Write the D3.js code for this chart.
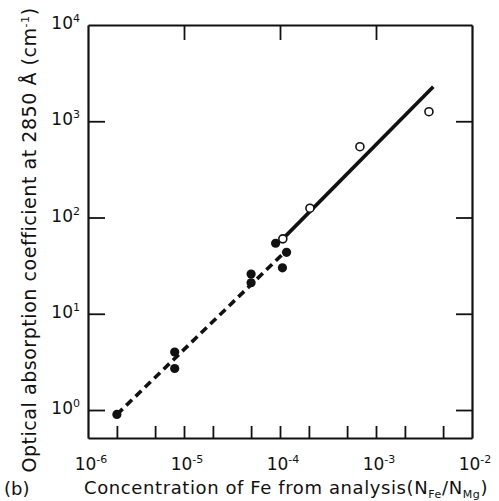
<!DOCTYPE html>
<html>
<head>
<meta charset="utf-8">
<script src="https://cdn.jsdelivr.net/npm/d3@7"></script>
<style>
  body { margin: 0; background: #fff; }
  text { font-family: "DejaVu Sans", sans-serif; fill: #111; }
</style>
</head>
<body>
<svg></svg>
<script>
// data
var filledX = [2e-6, 8e-6, 8e-6, 5e-5, 5e-5, 9e-5, 1.06e-4, 1.17e-4];
var filledY = [0.9, 4.0, 2.7, 25.9, 21.0, 54, 30, 43.5];
var openX = [1.07e-4, 2.05e-4, 6.8e-4, 3.56e-3];
var openY = [60, 125, 544, 1257];
var dashedX = [2e-6, 1.18e-4], dashedY = [0.9, 46];
var solidX = [1.07e-4, 3.95e-3], solidY = [60, 2286];

var xDecades = [1e-6, 1e-5, 1e-4, 1e-3, 1e-2];
var xExponents = ["-6", "-5", "-4", "-3", "-2"];
var xMinorTicks = [2e-6, 5e-6, 1e-5, 2e-5, 5e-5, 1e-4, 2e-4, 5e-4, 1e-3, 2e-3, 5e-3];
var xTopTicks = [1e-5, 1e-4, 1e-3];
var yDecades = [1, 10, 100, 1000, 10000];
var yExponents = ["0", "1", "2", "3", "4"];
var yTicks = [1, 10, 100, 1000];
var yBottom = 0.512;

var svgWidth = 499, svgHeight = 501;
var plotLeft = 88, plotRight = 472, plotTop = 25, plotBottom = 438;

var svg = d3.select("svg")
    .attr("width", svgWidth)
    .attr("height", svgHeight);

// scales
var xScale = d3.scaleLog().domain([1e-6, 1e-2]).range([plotLeft, plotRight]);
var yScale = d3.scaleLog().domain([yBottom, 1e4]).range([plotBottom, plotTop]);

// axes (frame + inward ticks)
function styleAxis(g) {
    g.selectAll("path").attr("stroke", "#111").attr("stroke-width", 2.2);
    g.selectAll("line").attr("stroke", "#111").attr("stroke-width", 1.8);
}
svg.append("g")
    .attr("transform", "translate(0," + plotBottom + ")")
    .call(d3.axisBottom(xScale).tickValues(xMinorTicks).tickSizeInner(-12).tickSizeOuter(0).tickFormat(""))
    .call(styleAxis);
svg.append("g")
    .attr("transform", "translate(0," + plotTop + ")")
    .call(d3.axisTop(xScale).tickValues(xTopTicks).tickSizeInner(-15).tickSizeOuter(0).tickFormat(""))
    .call(styleAxis);
svg.append("g")
    .attr("transform", "translate(" + plotLeft + ",0)")
    .call(d3.axisLeft(yScale).tickValues(yTicks).tickSizeInner(-17).tickSizeOuter(0).tickFormat(""))
    .call(styleAxis);
svg.append("g")
    .attr("transform", "translate(" + plotRight + ",0)")
    .call(d3.axisRight(yScale).tickValues(yTicks).tickSizeInner(-16).tickSizeOuter(0).tickFormat(""))
    .call(styleAxis);

// tick labels 10^n
var xLab = svg.selectAll("text.xlab")
    .data(xDecades)
    .enter()
    .append("text")
    .attr("class", "xlab")
    .attr("x", function(d) { return xScale(d) + 3; })
    .attr("y", 470)
    .attr("text-anchor", "middle")
    .attr("font-size", 17);
xLab.append("tspan").text("10");
xLab.append("tspan")
    .attr("dy", -7)
    .attr("font-size", 11)
    .text(function(d, i) { return xExponents[i]; });

var yLab = svg.selectAll("text.ylab")
    .data(yDecades)
    .enter()
    .append("text")
    .attr("class", "ylab")
    .attr("x", plotLeft - 8)
    .attr("y", function(d) { return yScale(d) + 4; })
    .attr("text-anchor", "end")
    .attr("font-size", 17);
yLab.append("tspan").text("10");
yLab.append("tspan")
    .attr("dy", -7)
    .attr("font-size", 11)
    .text(function(d, i) { return yExponents[i]; });

// fitted lines
var line = d3.line()
    .x(function(d) { return xScale(d[0]); })
    .y(function(d) { return yScale(d[1]); });

svg.append("path")
    .datum(d3.zip(dashedX, dashedY))
    .attr("d", line)
    .attr("fill", "none")
    .attr("stroke", "#111")
    .attr("stroke-width", 3.6)
    .attr("stroke-dasharray", "8,5");

svg.append("path")
    .datum(d3.zip(solidX, solidY))
    .attr("d", line)
    .attr("fill", "none")
    .attr("stroke", "#111")
    .attr("stroke-width", 3.6);

// points
svg.selectAll("circle.filled")
    .data(d3.zip(filledX, filledY))
    .enter()
    .append("circle")
    .attr("class", "filled")
    .attr("cx", function(d) { return xScale(d[0]); })
    .attr("cy", function(d) { return yScale(d[1]); })
    .attr("r", 4.6)
    .attr("fill", "#111");

svg.selectAll("circle.open")
    .data(d3.zip(openX, openY))
    .enter()
    .append("circle")
    .attr("class", "open")
    .attr("cx", function(d) { return xScale(d[0]); })
    .attr("cy", function(d) { return yScale(d[1]); })
    .attr("r", 4)
    .attr("fill", "#fff")
    .attr("stroke", "#111")
    .attr("stroke-width", 1.6);

// axis titles
var xTitle = svg.append("text")
    .attr("x", 84)
    .attr("y", 494)
    .attr("font-size", 18)
    .attr("letter-spacing", 0.6);
xTitle.append("tspan").text("Concentration of Fe from analysis(N");
xTitle.append("tspan").attr("dy", 4).attr("font-size", 11).text("Fe");
xTitle.append("tspan").attr("dy", -4).text("/N");
xTitle.append("tspan").attr("dy", 4).attr("font-size", 11).text("Mg");
xTitle.append("tspan").attr("dy", -4).text(")");

svg.append("text")
    .attr("x", 4)
    .attr("y", 495)
    .attr("font-size", 18)
    .text("(b)");

var yTitle = svg.append("text")
    .attr("transform", "translate(36,240) rotate(-90)")
    .attr("text-anchor", "middle")
    .attr("font-size", 19)
    .attr("letter-spacing", 0.55);
yTitle.append("tspan").text("Optical absorption coefficient at 2850 Å (cm");
yTitle.append("tspan").attr("dy", -7).attr("font-size", 11).text("-1");
yTitle.append("tspan").attr("dy", 7).text(")");
</script>
</body>
</html>
